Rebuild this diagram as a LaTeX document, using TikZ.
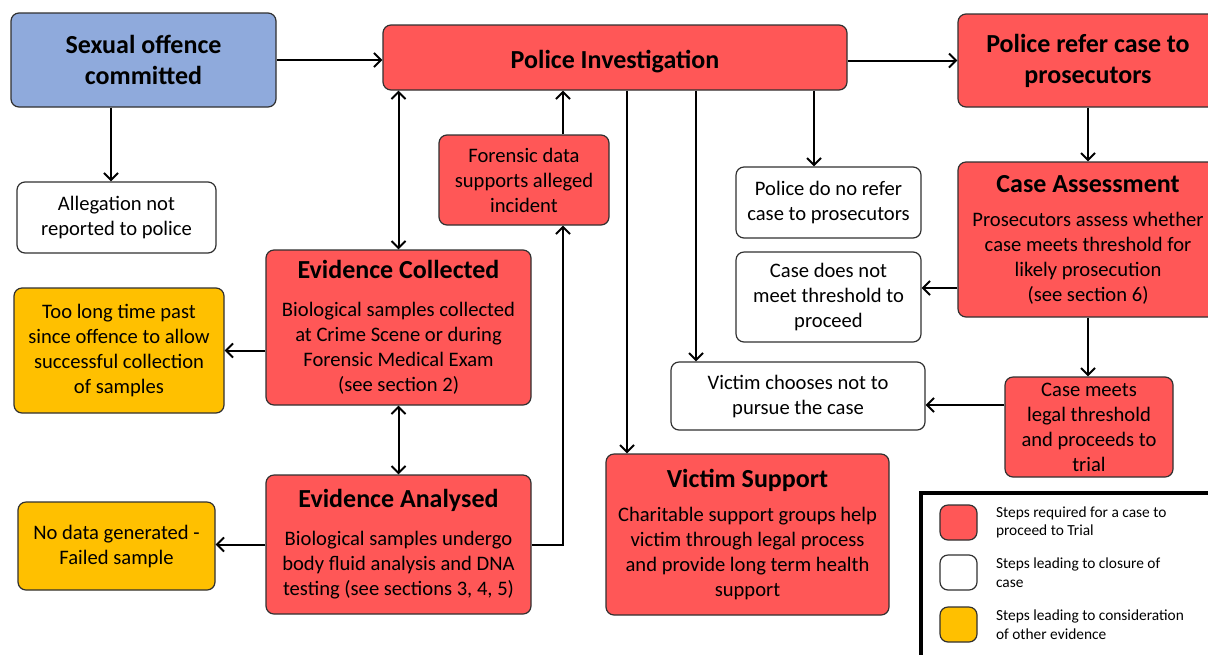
\documentclass[tikz,border=0pt]{standalone}
\usepackage{fontspec}
\setmainfont{Carlito}
\usetikzlibrary{positioning}
\usetikzlibrary{arrows.meta}
\definecolor{stepred}{HTML}{FF5757}
\definecolor{stepblue}{HTML}{8FAADC}
\definecolor{stepgold}{HTML}{FFC000}
\definecolor{edgegrey}{HTML}{303030}
\newcommand{\boxtitle}[1]{{\fontsize{13}{15.5}\selectfont\bfseries #1}}

\begin{document}
\begin{tikzpicture}
[
x=0.5pt, y=-0.5pt,
>={Straight Barb[length=3.5pt,width=7pt]},
stage-a/.style={draw=edgegrey, line width=0.6pt, rounded corners=4pt, align=center, inner sep=2pt, font=\fontsize{10.3}{12.5}\selectfont},
stage-red/.style={stage-a, fill=stepred},
stage-white/.style={stage-a, fill=white},
stage-gold/.style={stage-a, fill=stepgold},
stage-blue/.style={stage-a, fill=stepblue},
head-a/.style={font=\fontsize{13}{15.5}\selectfont\bfseries},
key-text/.style={align=left, inner sep=0pt, font=\fontsize{7.7}{9.2}\selectfont},
flow/.style={->, line width=1pt},
]
\useasboundingbox (0,0) rectangle (1208,654);
\clip (0,0) rectangle (1208,654);

% top row
\node (offence) [stage-blue, head-a, minimum width=132.5pt, minimum height=47pt] at (143.5,60)   {Sexual offence\\committed};
\node (police)  [stage-red,  head-a, minimum width=232pt,   minimum height=32.5pt, text height=13pt] at (615,57.5) {Police Investigation};
\node (refer)   [stage-red,  head-a, minimum width=130pt,   minimum height=46.5pt] at (1088,60.5) {Police refer case to\\prosecutors};

% left column
\node (allegation) [stage-white, minimum width=99.5pt, minimum height=35.5pt] at (116.5,217.5) {Allegation not\\reported to police};
\node (toolong)    [stage-gold,  minimum width=105pt,  minimum height=62.5pt] at (119,350.5)   {Too long time past\\since offence to allow\\successful collection\\of samples};
\node (nodata)     [stage-gold,  minimum width=98.5pt, minimum height=44pt]   at (116.5,546)   {No data generated -\\Failed sample};

% evidence
\node (forensic)  [stage-red, minimum width=85pt,    minimum height=45pt]   at (524,180)     {Forensic data\\supports alleged\\incident};
\node (collected) [stage-red, minimum width=132.5pt, minimum height=77.5pt] at (398.5,327.5) {\boxtitle{Evidence Collected}\\[6.5pt]
                                                                                              Biological samples collected\\
                                                                                              at Crime Scene or during\\
                                                                                              Forensic Medical Exam\\
                                                                                              (see section 2)};
\node (analysed)  [stage-red, minimum width=132.5pt, minimum height=69.5pt] at (398.5,544.5) {\boxtitle{Evidence Analysed}\\[6.5pt]
                                                                                              Biological samples undergo\\
                                                                                              body fluid analysis and DNA\\
                                                                                              testing (see sections 3, 4, 5)};
\node (support)   [stage-red, minimum width=141.5pt, minimum height=80.5pt] at (747.5,534.5) {\boxtitle{Victim Support}\\[4.5pt]
                                                                                              Charitable support groups help\\
                                                                                              victim through legal process\\
                                                                                              and provide long term health\\
                                                                                              support};

% right side
\node (norefer) [stage-white, minimum width=92.5pt, minimum height=35.5pt] at (828.5,202.5) {Police do no refer\\case to prosecutors};
\node (notmeet) [stage-white, minimum width=92.5pt, minimum height=45pt]   at (828.5,297)   {Case does not\\meet threshold to\\proceed};
\node (chooses) [stage-white, minimum width=127pt,  minimum height=34pt]   at (798,396)     {Victim chooses not to\\pursue the case};
\node (assess)  [stage-red,   minimum width=130pt,  minimum height=77.5pt] at (1088,239.5)  {\boxtitle{Case Assessment}\\[4.5pt]
                                                                                            Prosecutors assess whether\\
                                                                                            case meets threshold for\\
                                                                                            likely prosecution\\
                                                                                            (see section 6)};
\node (meets)   [stage-red,   minimum width=84pt,   minimum height=50pt]   at (1089,427)    {Case meets\\legal threshold\\and proceeds to\\trial};

% connectors
\draw [flow] (offence.east) -- (offence.east -| police.west);
\draw [flow] (offence.south -| 111,0) -- (allegation.north -| 111,0);
\draw [flow, <->] (police.south -| collected.north) -- (collected.north);
\draw [flow] (forensic.north -| 563,0) -- (police.south -| 563,0);
\draw [flow] (analysed.east) -| (forensic.south -| 563,0);
\draw [flow, <->] (collected.south) -- (analysed.north);
\draw [flow] (collected.west |- toolong.east) -- (toolong.east);
\draw [flow] (analysed.west) -- (analysed.west -| nodata.east);
\draw [flow] (police.south -| 627,0) -- (support.north -| 627,0);
\draw [flow] (police.south -| 696,0) -- (chooses.north -| 696,0);
\draw [flow] (police.south -| 814,0) -- (norefer.north -| 814,0);
\draw [flow] (police.east |- refer.west) -- (refer.west);
\draw [flow] (refer.south) -- (assess.north);
\draw [flow] (assess.west |- 0,288) -- (notmeet.east |- 0,288);
\draw [flow] (assess.south) -- (assess.south |- meets.north);
\draw [flow] (meets.west |- 0,405) -- (chooses.east |- 0,405);

% legend
\draw [line width=2pt] (921,493) rectangle (1240,690);
\node (key-red)   [stage-red,   minimum width=18.5pt, minimum height=17.5pt] at (958.5,522.5) {};
\node (key-white) [stage-white, minimum width=18.5pt, minimum height=17.5pt] at (958.5,572.5) {};
\node (key-gold)  [stage-gold,  minimum width=18.5pt, minimum height=17.5pt] at (958.5,624.5) {};
\node (lk-red)   [key-text, right = 9pt of key-red]   {Steps required for a case to\\proceed to Trial};
\node (lk-white) [key-text, right = 9pt of key-white] {Steps leading to closure of\\case};
\node (lk-gold)  [key-text, right = 9pt of key-gold]  {Steps leading to consideration\\of other evidence};
\end{tikzpicture}
\end{document}
